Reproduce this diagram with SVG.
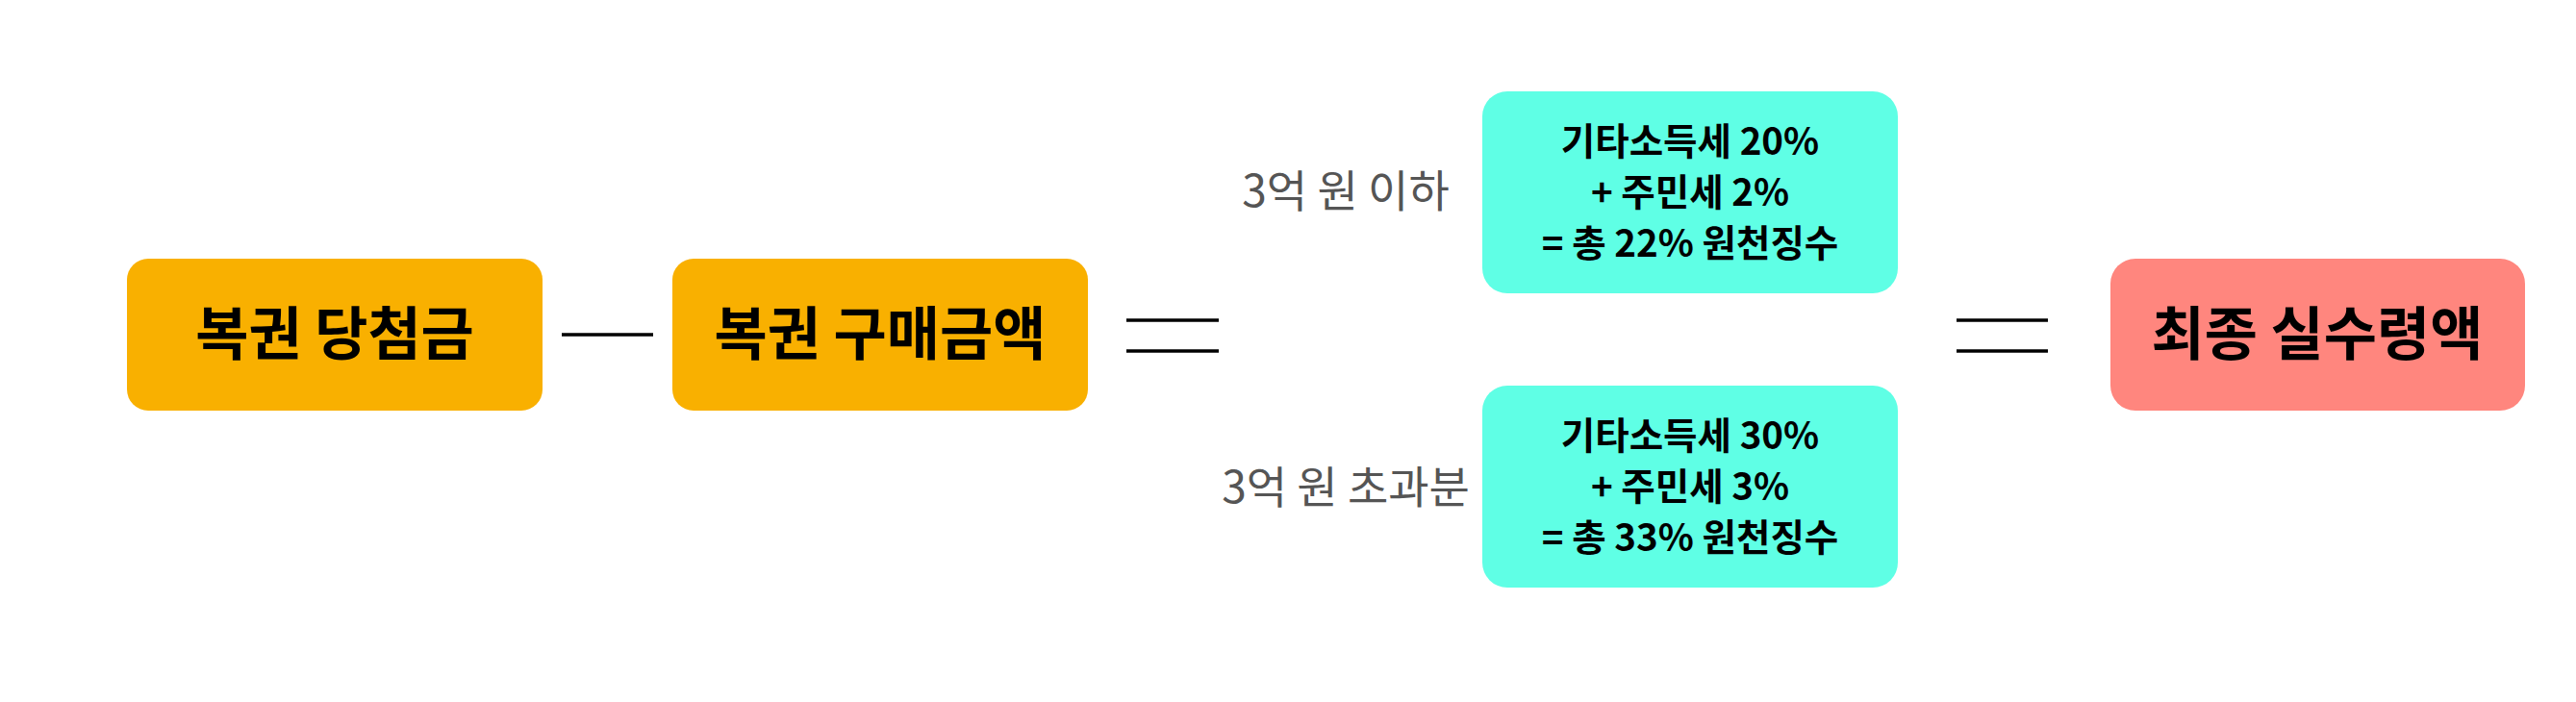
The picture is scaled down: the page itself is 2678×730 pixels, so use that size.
<svg xmlns="http://www.w3.org/2000/svg" width="2678" height="730" viewBox="0 0 2678 730">
<style>
.bg{fill:#ffffff}
.orange{fill:#F9B000}
.cyan{fill:#5FFFE5}
.red{fill:#FF867E}
.main{font-family:"Noto Sans CJK KR","Noto Sans",sans-serif;font-weight:700;font-size:60px;fill:#000;text-anchor:middle}
.tax{font-family:"Noto Sans CJK KR","Noto Sans",sans-serif;font-weight:700;font-size:38.5px;fill:#000;text-anchor:middle}
.lbl{font-family:"Noto Sans CJK KR","Noto Sans",sans-serif;font-weight:400;font-size:46px;fill:#555;text-anchor:middle}
.ln{stroke:#000;stroke-width:3.5;fill:none}
</style>
<rect class="bg" x="0" y="0" width="2678" height="730"/>
<g id="connectors">
<line class="ln" x1="584" y1="348" x2="679" y2="348"/>
<line class="ln" x1="1171" y1="333" x2="1267" y2="333"/>
<line class="ln" x1="1171" y1="365" x2="1267" y2="365"/>
<line class="ln" x1="2034" y1="333" x2="2129" y2="333"/>
<line class="ln" x1="2034" y1="365" x2="2129" y2="365"/>
</g>
<g id="node-winnings">
<rect class="orange" x="132" y="269" width="432" height="158" rx="22"/>
<text class="main" x="348" y="369">복권 당첨금</text>
</g>
<g id="node-purchase">
<rect class="orange" x="699" y="269" width="432" height="158" rx="22"/>
<text class="main" x="915" y="369">복권 구매금액</text>
</g>
<g id="label-under">
<text class="lbl" x="1399" y="215">3억 원 이하</text>
</g>
<g id="node-tax-under">
<rect class="cyan" x="1541" y="95" width="432" height="210" rx="26"/>
<text class="tax" x="1757" y="161">기타소득세 20%</text>
<text class="tax" x="1757" y="214">+ 주민세 2%</text>
<text class="tax" x="1757" y="267">= 총 22% 원천징수</text>
</g>
<g id="label-over">
<text class="lbl" x="1399" y="523">3억 원 초과분</text>
</g>
<g id="node-tax-over">
<rect class="cyan" x="1541" y="401" width="432" height="210" rx="26"/>
<text class="tax" x="1757" y="467">기타소득세 30%</text>
<text class="tax" x="1757" y="520">+ 주민세 3%</text>
<text class="tax" x="1757" y="573">= 총 33% 원천징수</text>
</g>
<g id="node-final">
<rect class="red" x="2194" y="269" width="431" height="158" rx="26"/>
<text class="main" x="2409" y="369">최종 실수령액</text>
</g>
</svg>
